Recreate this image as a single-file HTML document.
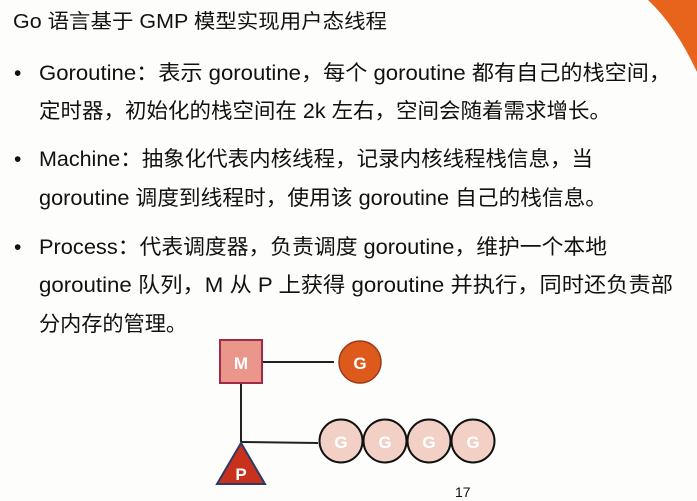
<!DOCTYPE html>
<html><head><meta charset="utf-8"><style>
html,body{margin:0;padding:0;background:#fff;}
svg{display:block;}
text{font-family:"Liberation Sans","Noto Sans CJK SC",sans-serif;fill:#111;}
</style></head><body>
<svg width="697" height="501" viewBox="0 0 697 501" xmlns="http://www.w3.org/2000/svg">
<rect width="697" height="501" fill="#fdfdfc"/>
<path d="M648,0 L697,0 L697,72 Q675,25 648,0 Z" fill="#e8631c"/>
<g font-size="21">
<text x="13" y="28" font-size="20" textLength="374" lengthAdjust="spacingAndGlyphs">Go 语言基于 GMP 模型实现用户态线程</text>
<text x="14" y="80">•</text>
<text x="39" y="80" textLength="632" lengthAdjust="spacingAndGlyphs">Goroutine：表示 goroutine，每个 goroutine 都有自己的栈空间，</text>
<text x="39" y="118" textLength="572" lengthAdjust="spacingAndGlyphs">定时器，初始化的栈空间在 2k 左右，空间会随着需求增长。</text>
<text x="14" y="166">•</text>
<text x="39" y="166" textLength="554" lengthAdjust="spacingAndGlyphs">Machine：抽象化代表内核线程，记录内核线程栈信息，当</text>
<text x="39" y="205" textLength="568" lengthAdjust="spacingAndGlyphs">goroutine 调度到线程时，使用该 goroutine 自己的栈信息。</text>
<text x="14" y="254">•</text>
<text x="39" y="254" textLength="568" lengthAdjust="spacingAndGlyphs">Process：代表调度器，负责调度 goroutine，维护一个本地</text>
<text x="39" y="292" textLength="634" lengthAdjust="spacingAndGlyphs">goroutine 队列，M 从 P 上获得 goroutine 并执行，同时还负责部</text>
<text x="39" y="331" textLength="148" lengthAdjust="spacingAndGlyphs">分内存的管理。</text>
</g>
<g stroke="#222" stroke-width="2">
<line x1="262" y1="362" x2="334" y2="362"/>
<line x1="241" y1="383" x2="241" y2="442"/>
<line x1="241" y1="442" x2="318" y2="443"/>
</g>
<rect x="220" y="340" width="42" height="43" fill="#ea968a" stroke="#9e2c48" stroke-width="2"/>
<text x="241" y="369" font-size="17" font-weight="bold" text-anchor="middle" style="fill:#fff">M</text>
<circle cx="360" cy="362" r="21" fill="#de5a1c" stroke="#9c3a18" stroke-width="1.5"/>
<text x="360" y="369" font-size="17" font-weight="bold" text-anchor="middle" style="fill:#fff">G</text>
<polygon points="241,443 217,484 265,484" fill="#c8311c" stroke="#2b3a66" stroke-width="2"/>
<text x="241" y="480" font-size="17" font-weight="bold" text-anchor="middle" style="fill:#fff">P</text>
<g fill="#f2d0c6" stroke="#111" stroke-width="2">
<circle cx="341" cy="441" r="21.5"/><circle cx="385" cy="441" r="21.5"/><circle cx="429" cy="441" r="21.5"/><circle cx="473" cy="441" r="21.5"/>
</g>
<g font-size="17" font-weight="bold" text-anchor="middle" style="fill:#fff">
<text x="341" y="448" style="fill:#fff">G</text><text x="385" y="448" style="fill:#fff">G</text><text x="429" y="448" style="fill:#fff">G</text><text x="473" y="448" style="fill:#fff">G</text>
</g>
<text x="455" y="497" font-size="14">17</text>
</svg>
</body></html>
